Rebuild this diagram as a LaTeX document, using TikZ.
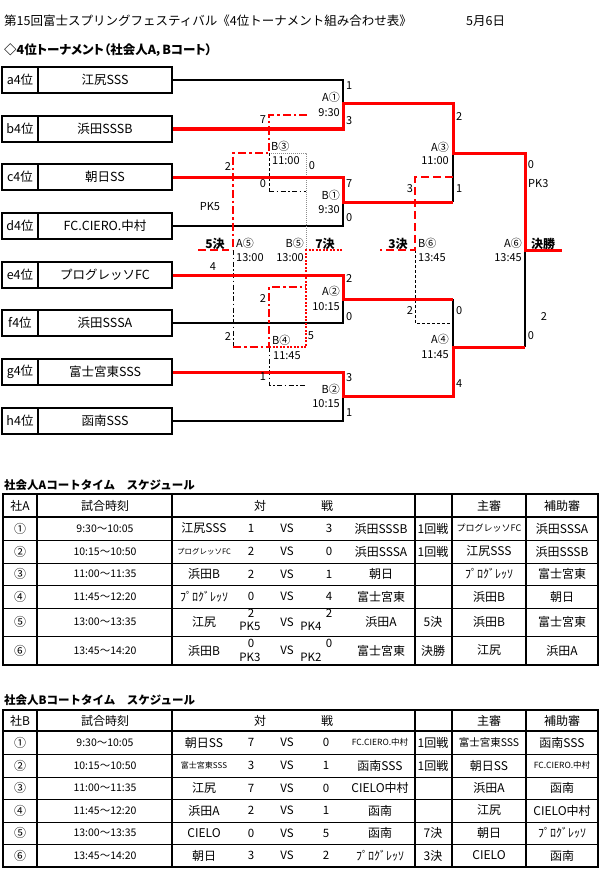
\documentclass[tikz,border=0pt]{standalone}
\usepackage{fontspec}
\setmainfont{Noto Sans CJK JP}
\newcommand\fsz[1]{\fontsize{#1}{#1}\selectfont}
\begin{document}
\begin{tikzpicture}[x=1pt,y=-1pt,
  box/.style={draw, line width=1.6pt, minimum height=26pt, inner sep=0pt, font=\fsz{12.5}},
  lblbox/.style={box, minimum width=36pt},
  nmbox/.style={box, minimum width=134pt},
  rl/.style={red, line width=3pt},
  bl/.style={black, line width=1.5pt},
  rdd/.style={red, line width=2.8pt, dash pattern=on 8pt off 3pt on 2.5pt off 3pt},
  kdd/.style={black, line width=1pt, dash pattern=on 5pt off 2.5pt on 1.5pt off 2.5pt},
  kdash/.style={black, line width=1pt, dash pattern=on 3pt off 2pt},
  rdot/.style={red, line width=1.2pt, dash pattern=on 2pt off 1.5pt},
  rdash/.style={red, line width=2.8pt, dash pattern=on 8pt off 4pt},
  gdot/.style={black!45, line width=0.9pt, dash pattern=on 1pt off 1pt},
  lab/.style={font=\fsz{11}, inner sep=0pt},
  klab/.style={font=\bfseries\fsz{12}, inner sep=0pt},
  cell/.style={font=\fsz{12}, inner sep=0pt, align=center},
  tout/.style={line width=2pt},
  tv/.style={line width=1.7pt},
  tvt/.style={line width=1.1pt},
  th/.style={line width=0.9pt}
]
\fill[white] (0,0) rectangle (600,880);
\useasboundingbox (0,0) rectangle (600,880);

% titles
\node[anchor=west, font=\fsz{12.5}, inner sep=0pt] (title) at (4,21) {第15回富士スプリングフェスティバル《4位トーナメント組み合わせ表》};
\node[anchor=west, font=\fsz{12.5}, inner sep=0pt] (date) at (466,21) {5月6日};
\node[anchor=west, font=\bfseries\fsz{12.5}\addfontfeatures{RawFeature=+palt}, inner sep=0pt] (sub) at (4,50) {◇4位トーナメント（社会人A，Bコート）};

% team boxes
\foreach \k/\y/\lb/\nm in {a/80/a4位/江尻SSS, b/129/b4位/浜田SSSB, c/177/c4位/朝日SS, d/226/d4位/FC.CIERO.中村,
  e/275/e4位/プログレッソFC, f/323/f4位/浜田SSSA, g/372/g4位/富士宮東SSS, h/421/h4位/函南SSS}{
  \node[lblbox] (l\k) at (20,\y) {\lb};
  \node[nmbox] (\k) at (105,\y) {\nm};
}

% bracket coordinates
\coordinate (a1) at (343,80);  \coordinate (b1) at (343,129); \coordinate (m1) at (343,104);
\coordinate (c1) at (343,177); \coordinate (d1) at (343,226); \coordinate (m2) at (343,202);
\coordinate (e1) at (343,275); \coordinate (f1) at (343,323); \coordinate (m3) at (343,299);
\coordinate (g1) at (343,372); \coordinate (h1) at (343,421); \coordinate (m4) at (343,396);
\coordinate (p1) at (453,104); \coordinate (p2) at (453,202); \coordinate (q1) at (453,153);
\coordinate (p3) at (453,299); \coordinate (p4) at (453,396); \coordinate (q2) at (453,347);
\coordinate (r1) at (525,153); \coordinate (r2) at (525,347); \coordinate (r0) at (525,250);
\coordinate (fin) at (562,250);
% losers
\coordinate (l1) at (307,115); \coordinate (l2) at (269,115); \coordinate (l3) at (269,153);
\coordinate (l4) at (233,153); \coordinate (l5) at (233,250); \coordinate (l6) at (269,191);
\coordinate (l7) at (306,191); \coordinate (l8) at (306,153); \coordinate (l9) at (306,250);
\coordinate (k1) at (198,250); \coordinate (k2) at (229,250);
\coordinate (l10) at (233,347); \coordinate (l11) at (269,347); \coordinate (l12) at (269,287);
\coordinate (l13) at (306,287); \coordinate (l14) at (269,385); \coordinate (l15) at (306,385);
\coordinate (l16) at (306,347); \coordinate (l17) at (343,250);
\coordinate (t1) at (453,177); \coordinate (t2) at (415,177); \coordinate (t3) at (415,250);
\coordinate (t4) at (380,250); \coordinate (t5) at (415,323); \coordinate (t6) at (453,323);

% winners bracket: black
\draw[bl] (a.east) -- (a1) -- (m1);
\draw[bl] (d.east) -- (d1) -- (m2);
\draw[bl] (f.east) -- (f1) -- (m3);
\draw[bl] (h.east) -- (h1) -- (m4);
\draw[bl] (p2) -- (q1);
\draw[bl] (p3) -- (q2);
\draw[bl] (r2) -- (r0);

% losers bracket
\draw[gdot] (l3) -- (l8) -- (l9);
\draw[kdash] (l3) -- (l6);
\draw[kdd] (l6) -- (l7);
\draw[kdd] (l5) -- (l10);
\draw[kdd] (l11) -- (l14) -- (l15);
\draw[kdash] (t3) -- (t5) -- (t6);
\draw[rdot] (l11) -- (l16) -- (l9) -- (l17);

% winners bracket: red
\draw[rl] (b.east) -- (b1) -- (m1) -- (p1) -- (q1) -- (r1) -- (r0) -- (fin);
\draw[rl] (c.east) -- (c1) -- (m2) -- (p2);
\draw[rl] (e.east) -- (e1) -- (m3) -- (p3);
\draw[rl] (g.east) -- (g1) -- (m4) -- (p4) -- (q2) -- (r2);

% losers red
\draw[rdd] (l1) -- (l2) -- (l3) -- (l4) -- (l5);
\draw[rdd] (l10) -- (l11) -- (l12) -- (l13);
\draw[rdash] (k1) -- (k2);
\draw[rdash] (t1) -- (t2) -- (t3) -- (t4);

% labels round 1
\node[lab, anchor=west] (s1) at (346,86) {1};
\node[lab, anchor=west] (s2) at (346,121) {3};
\node[lab, anchor=east] (gA1) at (340,97) {A①};
\node[lab, anchor=east] (tA1) at (340,113) {9:30};
\node[lab, anchor=west] (s3) at (346,184) {7};
\node[lab, anchor=west] (s4) at (346,218) {0};
\node[lab, anchor=east] (gB1) at (340,195) {B①};
\node[lab, anchor=east] (tB1) at (340,210) {9:30};
\node[lab, anchor=west] (s5) at (346,279) {2};
\node[lab, anchor=west] (s6) at (346,317) {0};
\node[lab, anchor=east] (gA2) at (340,291) {A②};
\node[lab, anchor=east] (tA2) at (340,307) {10:15};
\node[lab, anchor=west] (s7) at (346,378) {3};
\node[lab, anchor=west] (s8) at (346,413) {1};
\node[lab, anchor=east] (gB2) at (340,389) {B②};
\node[lab, anchor=east] (tB2) at (340,404) {10:15};

% B3
\node[lab] (s9) at (263,120) {7};
\node[lab, anchor=west] (gB3) at (271,146) {B③};
\node[lab, anchor=west] (tB3) at (272,161) {11:00};
\node[lab] (s10) at (312,166) {0};
\node[lab] (s11) at (228,167) {2};
\node[lab] (s12) at (263,184) {0};
\node[lab] (pk5) at (210,207) {PK5};

% A3
\node[lab, anchor=west] (s13) at (456,117) {2};
\node[lab, anchor=east] (gA3) at (449,147) {A③};
\node[lab, anchor=east] (tA3) at (449,161) {11:00};
\node[lab] (s14) at (410,189) {3};
\node[lab, anchor=west] (s15) at (456,189) {1};
\node[lab] (s16) at (531,165) {0};
\node[lab, anchor=west] (pk3) at (528,184) {PK3};

% row of finals
\node[klab] (k5) at (215,244) {5決};
\node[lab, anchor=west] (gA5) at (236,243) {A⑤};
\node[lab, anchor=west] (tA5) at (236,258) {13:00};
\node[lab, anchor=east] (gB5) at (304,243) {B⑤};
\node[lab, anchor=east] (tB5) at (304,258) {13:00};
\node[klab] (k7) at (325,244) {7決};
\node[klab] (k3) at (398,244) {3決};
\node[lab, anchor=west] (gB6) at (418,243) {B⑥};
\node[lab, anchor=west] (tB6) at (418,258) {13:45};
\node[lab, anchor=east] (gA6) at (522,243) {A⑥};
\node[lab, anchor=east] (tA6) at (522,258) {13:45};
\node[klab, anchor=west] (kf) at (531,244) {決勝};

% lower losers
\node[lab] (s17) at (213,267) {4};
\node[lab] (s18) at (263,299) {2};
\node[lab] (s19) at (228,337) {2};
\node[lab] (s20) at (311,336) {5};
\node[lab, anchor=west] (gB4) at (272,340) {B④};
\node[lab, anchor=west] (tB4) at (273,356) {11:45};
\node[lab] (s21) at (263,377) {1};

% A4 and final
\node[lab] (s22) at (410,311) {2};
\node[lab, anchor=west] (s23) at (456,311) {0};
\node[lab, anchor=east] (gA4) at (449,339) {A④};
\node[lab, anchor=east] (tA4) at (449,355) {11:45};
\node[lab, anchor=west] (s24) at (456,384) {4};
\node[lab] (s25) at (544,317) {2};
\node[lab] (s26) at (531,336) {0};

% ===== Table A =====
\node[anchor=west, font=\bfseries\fsz{11.5}, inner sep=0pt] (ttlA) at (4,485) {社会人Aコートタイム　スケジュール};
\foreach \yy in {540,563,585,608,636} \draw[th] (3,\yy) -- (598,\yy);
\draw[tv] (3,517) -- (598,517);
\draw[tv] (37,494) -- (37,665);
\draw[tv] (172,494) -- (172,665);
\draw[tvt] (415,494) -- (415,665);
\draw[tv] (452,494) -- (452,665);
\draw[tvt] (526,494) -- (526,665);
\draw[tout] (3,494) rectangle (598,665);

\node[cell] (hA1) at (20,505.5) {社A};
\node[cell] (hA2) at (105,505.5) {試合時刻};
\node[cell] (hA3) at (260,505.5) {対};
\node[cell] (hA4) at (327,505.5) {戦};
\node[cell] (hA5) at (489,505.5) {主審};
\node[cell] (hA6) at (562,505.5) {補助審};

\foreach \n/\y/\c/\tm/\ta/\sa/\sb/\tb/\rd/\ju/\as in {
  1/528.5/①/9:30～10:05/江尻SSS/1/3/浜田SSSB/1回戦/{\fsz{9}プログレッソFC}/浜田SSSA,
  2/551.5/②/10:15～10:50/{\fsz{7.5}プログレッソFC}/2/0/浜田SSSA/1回戦/江尻SSS/浜田SSSB,
  3/574/③/11:00～11:35/浜田B/2/1/朝日/{}/ﾌﾟﾛｸﾞﾚｯｿ/富士宮東,
  4/596.5/④/11:45～12:20/ﾌﾟﾛｸﾞﾚｯｿ/0/4/富士宮東/{}/浜田B/朝日,
  5/622/⑤/13:00～13:35/江尻/{}/{}/浜田A/5決/浜田B/富士宮東,
  6/650.5/⑥/13:45～14:20/浜田B/{}/{}/富士宮東/決勝/江尻/浜田A}{
  \node[cell] (An\n) at (20,\y) {\c};
  \node[cell, font=\fsz{10.5}] (At\n) at (105,\y) {\tm};
  \node[cell] (Aa\n) at (204,\y) {\ta};
  \node[cell, font=\fsz{11.5}] (As\n) at (251,\y) {\sa};
  \node[cell, font=\fsz{11.5}] (Av\n) at (287,\y) {VS};
  \node[cell, font=\fsz{11.5}] (Au\n) at (329,\y) {\sb};
  \node[cell] (Ab\n) at (381,\y) {\tb};
  \node[cell] (Ar\n) at (433,\y) {\rd};
  \node[cell] (Aj\n) at (489,\y) {\ju};
  \node[cell] (Ax\n) at (562,\y) {\as};
}
\node[cell, font=\fsz{11.5}] (As5a) at (251,613) {2};
\node[cell, font=\fsz{11.5}] (As5b) at (250,626) {PK5};
\node[cell, font=\fsz{11.5}] (Au5a) at (329,613) {2};
\node[cell, font=\fsz{11.5}] (Au5b) at (311,626) {PK4};
\node[cell, font=\fsz{11.5}] (As6a) at (251,643) {0};
\node[cell, font=\fsz{11.5}] (As6b) at (250,657) {PK3};
\node[cell, font=\fsz{11.5}] (Au6a) at (329,643) {0};
\node[cell, font=\fsz{11.5}] (Au6b) at (311,657) {PK2};

% ===== Table B =====
\node[anchor=west, font=\bfseries\fsz{11.5}, inner sep=0pt] (ttlB) at (4,700) {社会人Bコートタイム　スケジュール};
\foreach \yy in {754,777,799,822,844} \draw[th] (3,\yy) -- (598,\yy);
\draw[tv] (3,731) -- (598,731);
\draw[tv] (37,710) -- (37,867);
\draw[tv] (172,710) -- (172,867);
\draw[tvt] (415,710) -- (415,867);
\draw[tv] (452,710) -- (452,867);
\draw[tvt] (526,710) -- (526,867);
\draw[tout] (3,710) rectangle (598,867);

\node[cell] (hB1) at (20,720.5) {社B};
\node[cell] (hB2) at (105,720.5) {試合時刻};
\node[cell] (hB3) at (260,720.5) {対};
\node[cell] (hB4) at (327,720.5) {戦};
\node[cell] (hB5) at (489,720.5) {主審};
\node[cell] (hB6) at (562,720.5) {補助審};

\foreach \n/\y/\c/\tm/\ta/\sa/\sb/\tb/\rd/\ju/\as in {
  1/742.5/①/9:30～10:05/朝日SS/7/0/{\fsz{8.5}FC.CIERO.中村}/1回戦/{\fsz{10.5}富士宮東SSS}/函南SSS,
  2/765.5/②/10:15～10:50/{\fsz{8}富士宮東SSS}/3/1/函南SSS/1回戦/朝日SS/{\fsz{8.5}FC.CIERO.中村},
  3/788/③/11:00～11:35/江尻/7/0/CIELO中村/{}/浜田A/函南,
  4/810.5/④/11:45～12:20/浜田A/2/1/函南/{}/江尻/CIELO中村,
  5/833/⑤/13:00～13:35/CIELO/0/5/函南/7決/朝日/ﾌﾟﾛｸﾞﾚｯｿ,
  6/855.5/⑥/13:45～14:20/朝日/3/2/ﾌﾟﾛｸﾞﾚｯｿ/3決/CIELO/函南}{
  \node[cell] (Bn\n) at (20,\y) {\c};
  \node[cell, font=\fsz{10.5}] (Bt\n) at (105,\y) {\tm};
  \node[cell] (Ba\n) at (204,\y) {\ta};
  \node[cell, font=\fsz{11.5}] (Bs\n) at (251,\y) {\sa};
  \node[cell, font=\fsz{11.5}] (Bv\n) at (287,\y) {VS};
  \node[cell, font=\fsz{11.5}] (Bu\n) at (326,\y) {\sb};
  \node[cell] (Bb\n) at (380,\y) {\tb};
  \node[cell] (Br\n) at (433,\y) {\rd};
  \node[cell] (Bj\n) at (489,\y) {\ju};
  \node[cell] (Bx\n) at (562,\y) {\as};
}
\end{tikzpicture}
\end{document}
